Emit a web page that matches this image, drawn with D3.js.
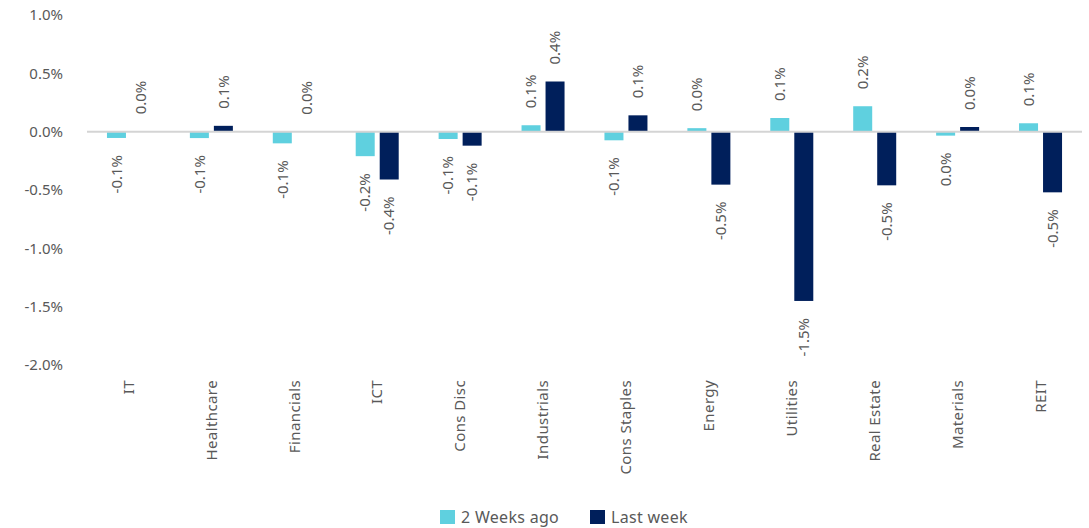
<!DOCTYPE html>
<html>
<head>
<meta charset="utf-8">
<script src="https://cdn.jsdelivr.net/npm/d3@7"></script>
<style>
  html, body { margin: 0; padding: 0; background: #ffffff; }
  svg { display: block; }
  text { font-family: "Noto Sans", "Lato", sans-serif; fill: #595959; }
</style>
</head>
<body>
<svg id="chart" width="1089" height="528"></svg>
<script>
const categories = ["IT", "Healthcare", "Financials", "ICT", "Cons Disc", "Industrials", "Cons Staples", "Energy", "Utilities", "Real Estate", "Materials", "REIT"];
const seriesNames = ["2 Weeks ago", "Last week"];
const twoWeeksAgo = [-0.054, -0.055, -0.10, -0.21, -0.063, 0.055, -0.074, 0.03, 0.117, 0.218, -0.034, 0.072];
const lastWeek = [0.003, 0.05, 0.0, -0.41, -0.12, 0.43, 0.14, -0.454, -1.451, -0.46, 0.04, -0.52];
const yTicks = [1.0, 0.5, 0.0, -0.5, -1.0, -1.5, -2.0];
const colors = ["#5fd0df", "#001f5b"];

const svg = d3.select("#chart");
const fmt = v => {
  const r = Math.round(v * 10) / 10;
  return (r === 0 ? 0 : r).toFixed(1) + "%";
};

const x0 = d3.scaleBand().domain(categories).range([87, 1082]).paddingInner(0).paddingOuter(0);
const bw = x0.bandwidth();
const x1 = d3.scaleBand().domain(seriesNames).range([bw / 2 - 21.5, bw / 2 + 21.5]).paddingInner(5 / 24).paddingOuter(0);
const y = d3.scaleLinear().domain([-2, 1]).range([365, 15]);

// y tick labels
const yAxis = d3.axisLeft(y).tickValues(yTicks).tickFormat(fmt).tickSize(0).tickPadding(0);
const gy = svg.append("g").attr("transform", "translate(63,0)").call(yAxis);
gy.select(".domain").remove();
gy.selectAll("text").style("font-size", "15px").attr("fill", "#595959").style("font-family", "\"Noto Sans\", sans-serif");

// bars
const data = categories.map((c, i) => ({ cat: c, vals: [twoWeeksAgo[i], lastWeek[i]] }));
const groups = svg.append("g").selectAll("g").data(data).join("g")
  .attr("transform", d => `translate(${x0(d.cat)},0)`);

groups.selectAll("rect").data(d => d.vals.map((v, j) => ({ v, s: seriesNames[j], j })))
  .join("rect")
  .attr("x", d => x1(d.s))
  .attr("width", x1.bandwidth())
  .attr("y", d => y(Math.max(0, d.v)))
  .attr("height", d => Math.abs(y(d.v) - y(0)))
  .attr("fill", d => colors[d.j]);

// zero line
svg.append("line")
  .attr("x1", 87).attr("x2", 1082)
  .attr("y1", y(0)).attr("y2", y(0))
  .attr("stroke", "#d4d4d4").attr("stroke-width", 2);

// data labels
groups.selectAll("text.lbl").data(d => d.vals.map((v, j) => ({ v, s: seriesNames[j], j })))
  .join("text")
  .attr("class", "lbl")
  .attr("transform", d => {
    const cx = x1(d.s) + x1.bandwidth() / 2;
    const yy = d.v >= 0 ? y(d.v) - 17 : y(d.v) + 17;
    return `translate(${cx},${yy}) rotate(-90)`;
  })
  .attr("text-anchor", d => d.v >= 0 ? "start" : "end")
  .attr("dy", "0.35em")
  .style("font-size", "15px")
  .text(d => fmt(d.v));

// category labels
const xAxis = d3.axisBottom(x0).tickSize(0).tickPadding(0);
const gx = svg.append("g").attr("transform", "translate(0,380)").call(xAxis);
gx.select(".domain").remove();
gx.selectAll("text")
  .attr("transform", "rotate(-90)")
  .attr("x", 0).attr("y", 0).attr("dy", "0.35em")
  .attr("text-anchor", "end")
  .style("font-size", "15px")
  .style("letter-spacing", "0.4px")
  .attr("fill", "#595959")
  .style("font-family", "\"Noto Sans\", sans-serif");
gx.selectAll(".tick").attr("transform", d => `translate(${x0(d) + bw / 2},0)`);

// legend
const legendX = [440, 590];
const leg = svg.append("g").selectAll("g").data(seriesNames).join("g")
  .attr("transform", (d, i) => `translate(${legendX[i]},510)`);
leg.append("rect").attr("width", 15).attr("height", 14).attr("fill", (d, i) => colors[i]);
leg.append("text").attr("x", 21).attr("y", 7).attr("dy", "0.35em")
  .style("font-size", "16px").style("letter-spacing", "0.3px").text(d => d);
</script>
</body>
</html>
